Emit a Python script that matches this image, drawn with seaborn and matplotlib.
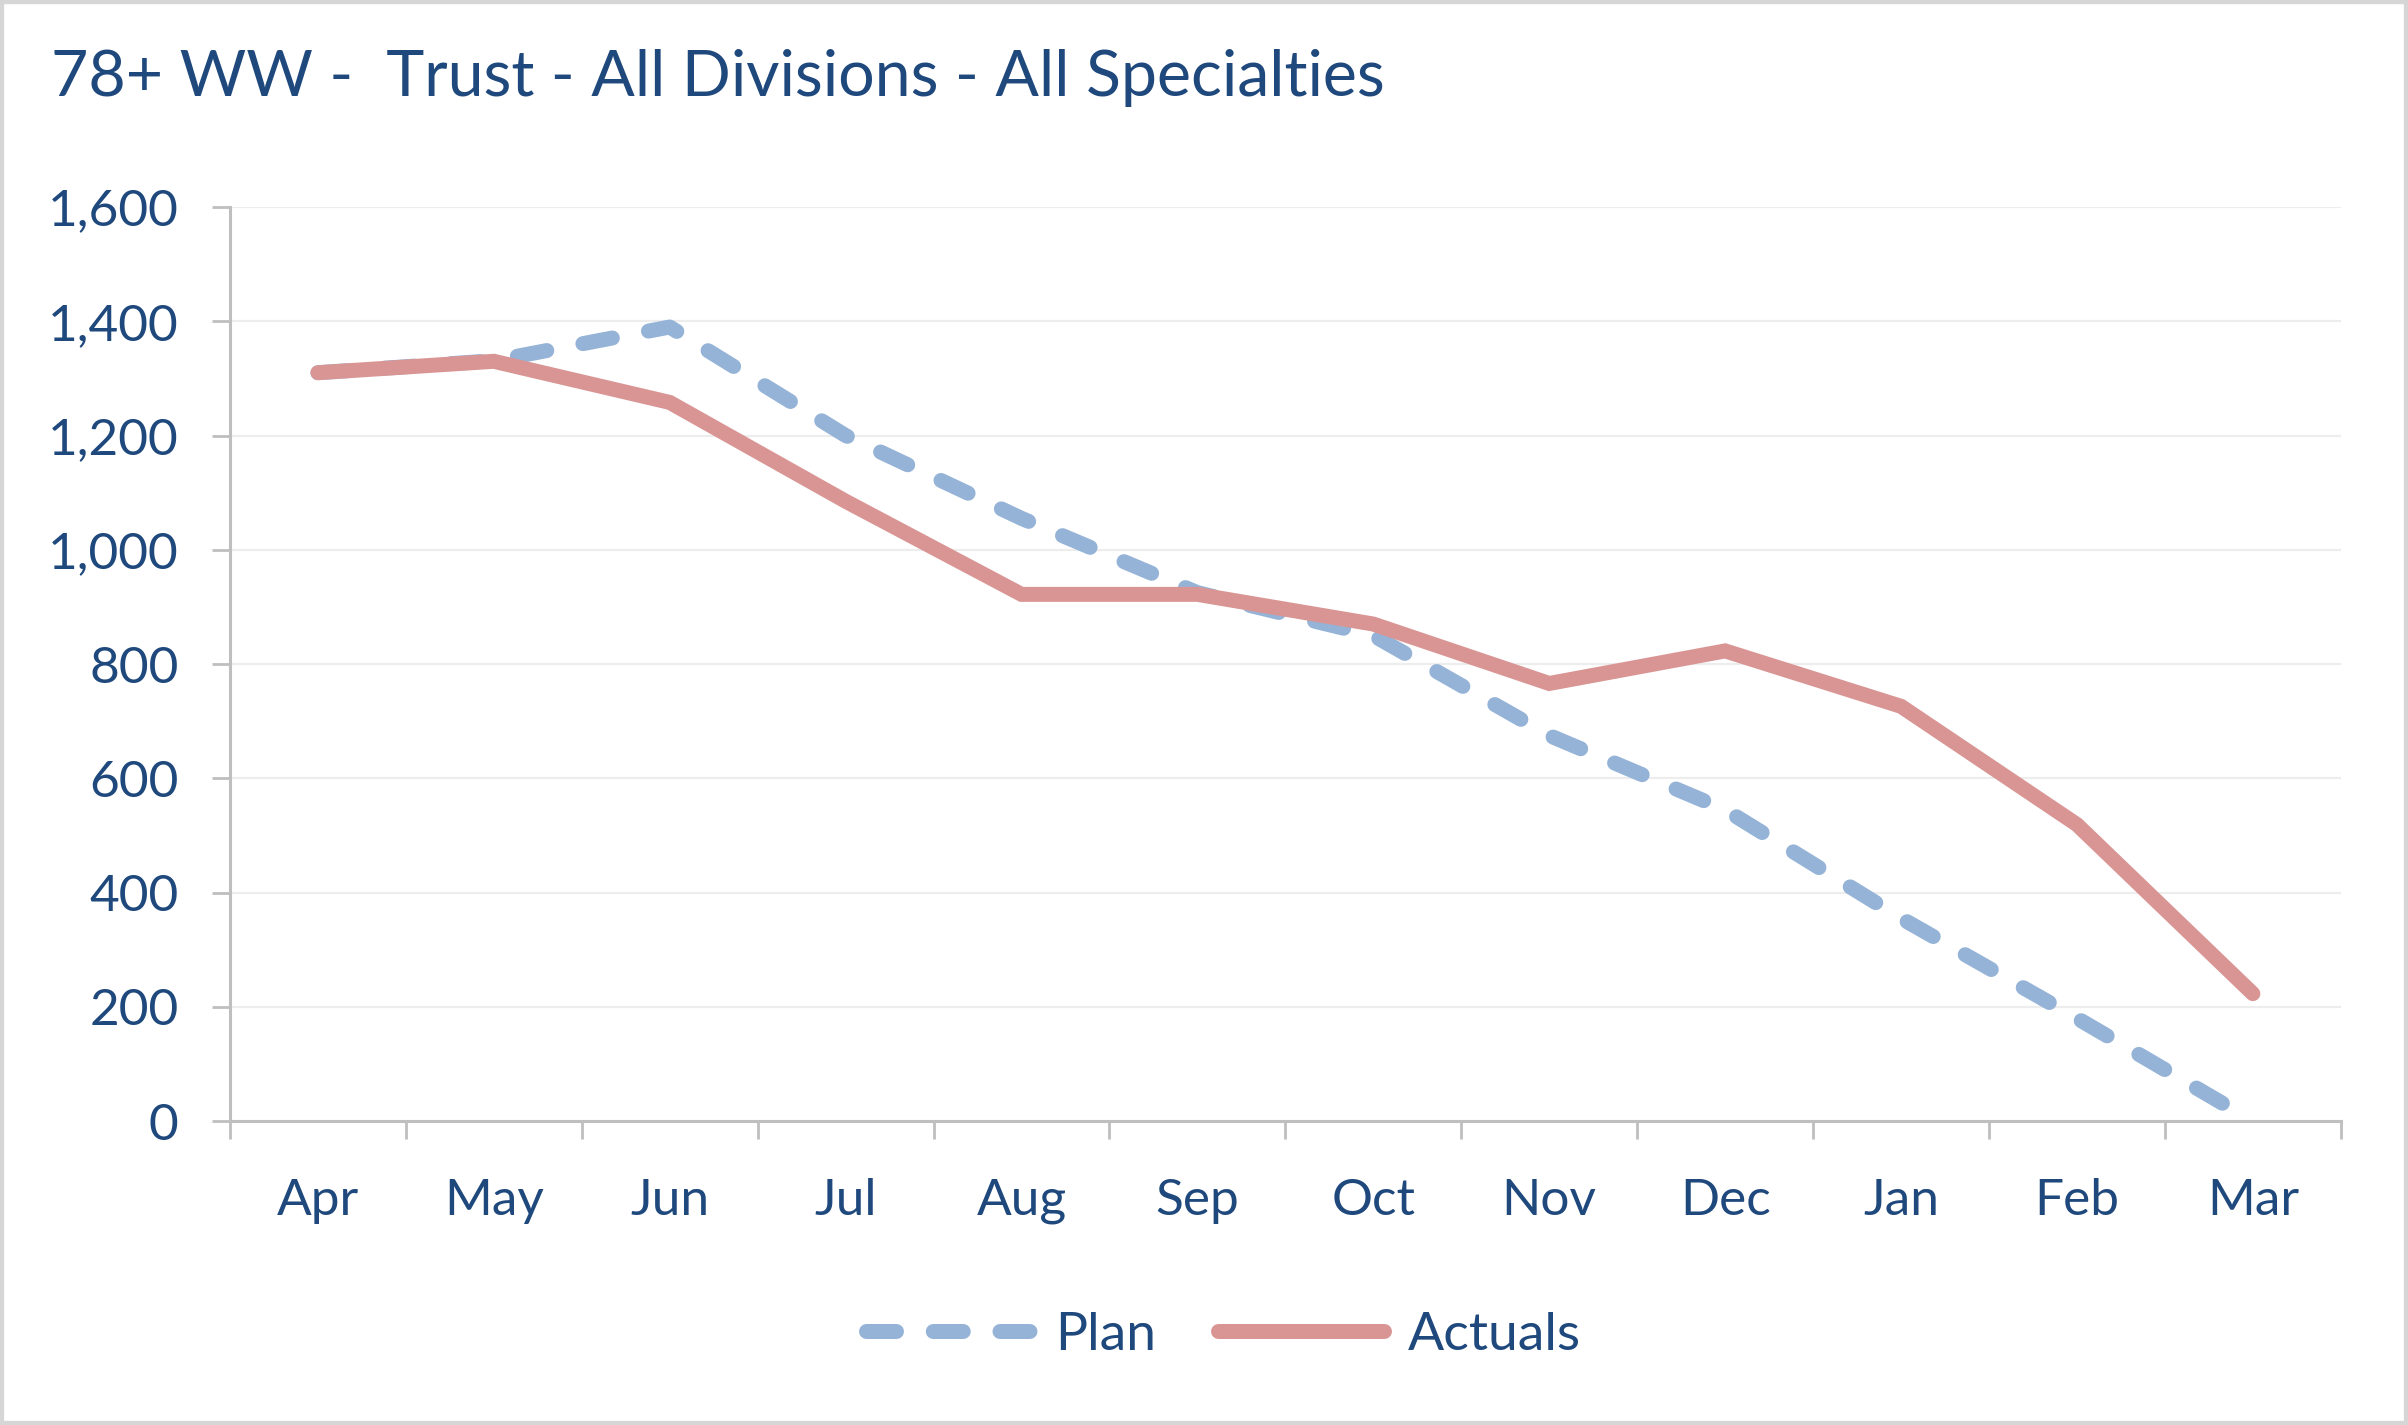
import pandas as pd
import matplotlib.pyplot as plt
import seaborn as sns
from matplotlib.patches import Rectangle
from matplotlib.ticker import FuncFormatter, FixedLocator

# Monthly values
months = ['Apr', 'May', 'Jun', 'Jul', 'Aug', 'Sep', 'Oct', 'Nov', 'Dec', 'Jan', 'Feb', 'Mar']
plan = [1310, 1331, 1390, 1200, 1055, 925, 850, 675, 545, 355, 180, 0]
actuals = [1310, 1330, 1258, 1085, 922, 922, 870, 766, 823, 726, 519, 223]
yticks = [0, 200, 400, 600, 800, 1000, 1200, 1400, 1600]

plan_color = '#95B3D7'
actual_color = '#D99594'
text_color = '#1F497D'

data = pd.DataFrame({'Month': months, 'Plan': plan, 'Actuals': actuals})

sns.set_style('white')
plt.rcParams['font.family'] = ['Lato', 'DejaVu Sans']

fig = plt.figure(figsize=(24.08, 14.25), dpi=100)
ax = fig.add_axes([0.0955, 0.2133, 0.8766, 0.6414])

lw = 10.8
sns.lineplot(data=data, x='Month', y='Plan', ax=ax, color=plan_color, linewidth=lw,
             linestyle=(0, (2.0, 2.45)), dash_capstyle='round', label='Plan', sort=False)
sns.lineplot(data=data, x='Month', y='Actuals', ax=ax, color=actual_color, linewidth=lw,
             solid_capstyle='round', solid_joinstyle='miter', label='Actuals', sort=False)

ax.set_xlim(-0.5, len(months) - 0.5)
ax.set_ylim(0, 1600)
ax.set_yticks(yticks)
ax.yaxis.set_major_formatter(FuncFormatter(lambda v, p: f'{int(v):,}'))
ax.set_xlabel('')
ax.set_ylabel('')

# gridlines and axis styling
ax.grid(axis='y', color='#EDEDED', lw=1.6)
ax.set_axisbelow(True)
for s in ['top', 'right']:
    ax.spines[s].set_visible(False)
for s in ['left', 'bottom']:
    ax.spines[s].set_color('#BFBFBF')
    ax.spines[s].set_linewidth(2.2)

ax.tick_params(axis='y', which='major', length=13, width=2, color='#BFBFBF',
               direction='out', pad=24, labelsize=37, labelcolor=text_color, left=True)
ax.tick_params(axis='x', which='major', length=0, pad=41, labelsize=37, labelcolor=text_color)
ax.xaxis.set_minor_locator(FixedLocator([i - 0.5 for i in range(len(months) + 1)]))
ax.tick_params(axis='x', which='minor', length=13, width=2, color='#BFBFBF',
               direction='out', bottom=True)

ax.get_legend().remove()
handles, labels = ax.get_legend_handles_labels()
fig.legend(handles, labels, loc='center', bbox_to_anchor=(0.508, 0.063), ncol=2,
           frameon=False, fontsize=38.5, labelcolor=text_color, handlelength=3.1,
           handletextpad=0.45, columnspacing=1.15)

fig.text(0.021, 0.945, '78+ WW -  Trust - All Divisions - All Specialties',
         fontsize=46.4, color=text_color, ha='left', va='center')

# light grey frame around the whole chart
fig.patches.append(Rectangle((0, 0), 1, 1, transform=fig.transFigure, fill=False,
                             edgecolor='#D6D6D6', lw=6, zorder=10))

fig.savefig('out.png', dpi=100, facecolor='white')
